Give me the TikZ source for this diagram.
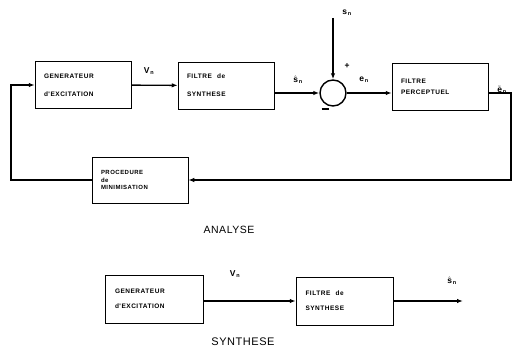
\documentclass[tikz,border=0pt]{standalone}
\usepackage{fontspec}
\usepackage{amsmath}
\usepackage{tikz}
\usetikzlibrary{arrows.meta}
\newfontfamily\boxfont{Liberation Sans Bold}[LetterSpace=8]
\newfontfamily\titfont{Liberation Sans}[LetterSpace=5]
\newfontfamily\lblfont{Liberation Sans Bold}
\newcommand*{\bwd}{96pt}
\newcommand*{\bht}{47pt}
\newcommand*{\nsub}{\text{\lblfont\fontsize{5.5}{6}\selectfont\,n}}
\newcommand*{\sgn}[1]{\(\text{\lblfont #1}_{\nsub}\)}

\begin{document}
\begin{tikzpicture}[x=1pt, y=-1pt,
    blok/.style={draw, line width=0.5pt, minimum width=\bwd, minimum height=\bht,
        text width=\bwd-18pt, align=left, inner sep=2pt,
        font=\boxfont\fontsize{6.5}{8}\selectfont},
    fil/.style={line width=1.4pt},
    pil/.style={fil, -{Latex[length=6pt,width=4.5pt]}},
    lbl/.style={inner sep=0pt, font=\lblfont\fontsize{8.5}{10}\selectfont}]
    \useasboundingbox (0,0) rectangle (513,358);
    % analyse
    \node [blok] (gen)  at (83,85)    {GENERATEUR\\[10pt]d'EXCITATION};
    \node [blok] (filt) at (226,85.5) {FILTRE\hspace{3pt} de\\[10pt]SYNTHESE};
    \node [draw, circle, line width=1.4pt, minimum size=26pt, inner sep=0pt] (sum) at (333,93) {};
    \node [blok] (perc) at (440,86.5) {FILTRE\\[3pt]PERCEPTUEL};
    \node [blok, minimum height=46pt, font=\boxfont\fontsize{6}{7.5}\selectfont] (mini) at (140,180) {PROCEDURE\\de\\MINIMISATION};
    \coordinate (sin) at (333,18);
    \coordinate (rgt) at (511,180);
    \coordinate (lft) at (11,180);
    \draw [pil] (gen) -- (filt);
    \draw [pil] (filt.east |- sum) -- (sum);
    \draw [pil] (sin) -- (sum);
    \draw [pil] (sum) -- (perc.west |- sum);
    \draw [pil] (perc.east |- sum) -| (rgt) -- (mini.east);
    \draw [pil] (mini.west) -- (lft) |- (gen.west);
    \node [lbl] (vn)  at (149,71)  {\sgn{V}};
    \node [lbl] (shn) at (298,80)  {\(\hat{\text{\lblfont s}}_{\nsub}\)};
    \node [lbl] (sn)  at (347,13)  {\sgn{s}};
    \node [lbl] (pl)  at (347,66)  {+};
    \node [lbl] (mn)  at (325,109) {\rule{7pt}{1.3pt}};
    \node [lbl] (en)  at (364,80)  {\sgn{e}};
    \node [lbl] (etn) at (502,90)  {\(\tilde{\text{\lblfont e}}_{\nsub}\)};
    \node [font=\titfont\fontsize{10.5}{12}\selectfont] (ana) at (229,230) {ANALYSE};
    % synthese
    \node [blok, minimum width=98pt, minimum height=48pt] (gen2)  at (154,299) {GENERATEUR\\[7pt]d'EXCITATION};
    \node [blok, minimum width=97pt, minimum height=48pt] (filt2) at (344.5,301) {FILTRE\hspace{3pt} de\\[7pt]SYNTHESE};
    \coordinate (out) at (463,301);
    \draw [pil] (gen2.east |- filt2) -- (filt2.west);
    \draw [pil] (filt2.east) -- (out);
    \node [lbl] (vn2)  at (235,274) {\sgn{V}};
    \node [lbl] (shn2) at (452,281) {\(\hat{\text{\lblfont s}}_{\nsub}\)};
    \node [font=\titfont\fontsize{11}{13}\selectfont] (syn) at (243,342) {SYNTHESE};
\end{tikzpicture}
\end{document}
